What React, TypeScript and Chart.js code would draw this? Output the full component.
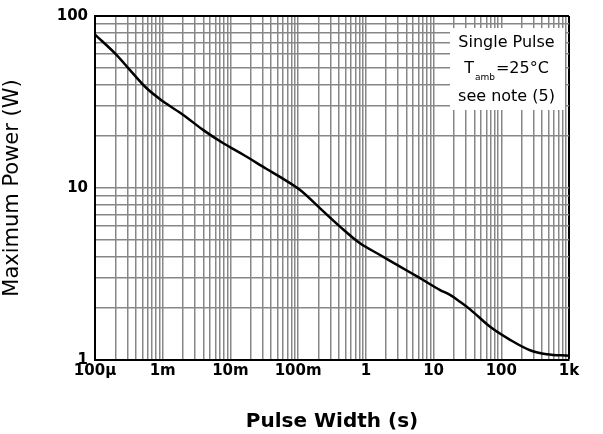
import React, { useEffect, useRef } from "react";
import { Chart, registerables } from "chart.js";

Chart.register(...registerables);

// Pulse width (s) and maximum power (W)
const pulseWidth = [
  1e-4, 2.09e-4, 3.29e-4, 5.8e-4, 1.02e-3, 2.01e-3, 3.98e-3, 7.86e-3, 0.0155, 0.0343,
  0.054, 0.107, 0.211, 0.416, 0.82, 1.62, 3.2, 6.32, 12.5, 17.5, 24.6, 34.6, 68.4, 135, 266, 470, 1000,
];
const maxPower = [
  78, 59.3, 48.5, 38.0, 31.8, 26.6, 21.7, 18.2, 15.6, 12.9,
  11.6, 9.73, 7.62, 5.96, 4.77, 4.08, 3.49, 2.99, 2.55, 2.39, 2.18, 1.97, 1.56, 1.31, 1.14, 1.08, 1.06,
];

const xTickValues = [1e-4, 1e-3, 1e-2, 1e-1, 1, 10, 100, 1000];
const xTickLabels = ["100µ", "1m", "10m", "100m", "1", "10", "100", "1k"];
const yTickValues = [1, 10, 100];
const yTickLabels = ["1", "10", "100"];
const minorMultipliers = [1, 2, 3, 4, 5, 6, 7, 8, 9];

const noteLine1 = "Single Pulse";
const noteT = "T";
const noteSub = "amb";
const noteRest = "=25°C";
const noteLine3 = "see note (5)";

function buildLogTicks(majors: number[]) {
  const vals: number[] = [];
  for (let i = 0; i < majors.length; i++) {
    if (i === majors.length - 1) {
      vals.push(majors[i]);
    } else {
      for (const m of minorMultipliers) vals.push(majors[i] * m);
    }
  }
  return vals;
}

function labelFor(v: number, majors: number[], labels: string[]) {
  const i = majors.findIndex((m) => Math.abs(v - m) / m < 1e-6);
  return i >= 0 ? labels[i] : "";
}

const notePlugin = {
  id: "noteBox",
  beforeDatasetsDraw(chart: any) {
    const { ctx, chartArea } = chart;
    const right = chartArea.right;
    const top = chartArea.top;
    const bx = right - 119;
    const by = top + 12;
    const bw = 115;
    const bh = 82;
    ctx.save();
    ctx.fillStyle = "#ffffff";
    ctx.fillRect(bx, by, bw, bh);
    ctx.fillStyle = "#000000";
    ctx.textBaseline = "middle";
    ctx.textAlign = "center";
    const cx = bx + bw / 2 - 1;
    ctx.font = "16px 'DejaVu Sans'";
    ctx.fillText(noteLine1, cx, by + 15);
    ctx.fillText(noteLine3, cx, by + 69);
    // T_amb = 25°C
    ctx.textAlign = "left";
    ctx.font = "16px 'DejaVu Sans'";
    const wT = ctx.measureText(noteT).width;
    const wRest = ctx.measureText(noteRest).width;
    ctx.font = "9px 'DejaVu Sans'";
    const wSub = ctx.measureText(noteSub).width;
    const total = wT + wSub + wRest + 2;
    let x = cx - total / 2;
    const y2 = by + 41;
    ctx.font = "16px 'DejaVu Sans'";
    ctx.fillText(noteT, x, y2);
    x += wT + 1;
    ctx.font = "9px 'DejaVu Sans'";
    ctx.fillText(noteSub, x, y2 + 9);
    x += wSub + 1;
    ctx.font = "16px 'DejaVu Sans'";
    ctx.fillText(noteRest, x, y2);
    ctx.restore();
  },
};

export default function App() {
  const canvasRef = useRef<HTMLCanvasElement | null>(null);

  useEffect(() => {
    if (!canvasRef.current) return;
    const xTicks = buildLogTicks(xTickValues);
    const yTicks = buildLogTicks(yTickValues);
    const gridColor = (last: number) => (ctx: any) =>
      ctx.tick && Math.abs(ctx.tick.value - last) / last < 1e-6 ? "#000000" : "#878787";
    const gridWidth = (last: number) => (ctx: any) =>
      ctx.tick && Math.abs(ctx.tick.value - last) / last < 1e-6 ? 2 : 1.5;

    const chart = new Chart(canvasRef.current, {
      type: "scatter",
      data: {
        datasets: [
          {
            data: pulseWidth.map((x, i) => ({ x, y: maxPower[i] })),
            showLine: true,
            borderColor: "#000000",
            borderWidth: 2.5,
            pointRadius: 0,
            cubicInterpolationMode: "monotone",
            fill: false,
          },
        ],
      },
      options: {
        animation: false,
        responsive: false,
        events: [],
        layout: { padding: { left: 0, right: 34, top: 16, bottom: 0 } },
        plugins: {
          legend: { display: false },
          tooltip: { enabled: false },
        },
        scales: {
          x: {
            type: "logarithmic",
            min: 1e-4,
            max: 1000,
            afterBuildTicks: (scale: any) => {
              scale.ticks = xTicks.map((v) => ({ value: v }));
            },
            afterFit: (scale: any) => {
              scale.height = 74;
            },
            ticks: {
              autoSkip: false,
              maxRotation: 0,
              minRotation: 0,
              padding: 2,
              color: "#000000",
              font: { family: "'DejaVu Sans'", size: 15, weight: "bold" },
              callback: (v: any) => labelFor(Number(v), xTickValues, xTickLabels),
            },
            grid: {
              drawTicks: false,
              color: gridColor(1000),
              lineWidth: gridWidth(1000),
            },
            border: { display: true, color: "#000000", width: 2 },
            title: {
              display: true,
              text: "Pulse Width (s)",
              color: "#000000",
              font: { family: "'DejaVu Sans'", size: 20, weight: "bold" },
              padding: { top: 20, bottom: 0 },
            },
          },
          y: {
            type: "logarithmic",
            min: 1,
            max: 100,
            afterBuildTicks: (scale: any) => {
              scale.ticks = yTicks.map((v) => ({ value: v }));
            },
            afterFit: (scale: any) => {
              scale.width = 95;
            },
            ticks: {
              autoSkip: false,
              padding: 7,
              color: "#000000",
              font: { family: "'DejaVu Sans'", size: 15, weight: "bold" },
              callback: (v: any) => labelFor(Number(v), yTickValues, yTickLabels),
            },
            grid: {
              drawTicks: false,
              color: gridColor(100),
              lineWidth: gridWidth(100),
            },
            border: { display: true, color: "#000000", width: 2 },
            title: {
              display: true,
              text: "Maximum Power (W)",
              color: "#000000",
              font: { family: "'DejaVu Sans'", size: 21, weight: "normal" },
              padding: { top: 0, bottom: 0 },
            },
          },
        },
      } as any,
      plugins: [notePlugin],
    });
    return () => chart.destroy();
  }, []);

  return (
    <div style={{ position: "fixed", left: 0, top: 0, width: 603, height: 434, background: "#ffffff" }}>
      <canvas ref={canvasRef} width={603} height={434} style={{ width: 603, height: 434 }} />
    </div>
  );
}
